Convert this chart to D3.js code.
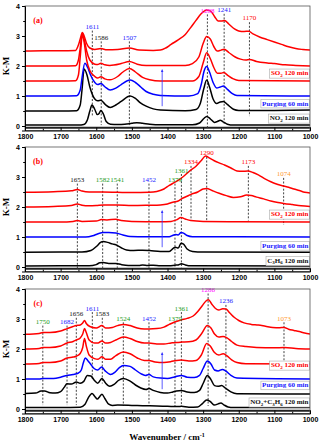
<!DOCTYPE html>
<html><head><meta charset="utf-8">
<script src="https://cdn.jsdelivr.net/npm/d3@7"></script>
<style>body{margin:0;background:#fff}svg{display:block;font-family:"Liberation Serif","Times New Roman",serif}</style>
</head><body><svg id="c" width="320" height="443"></svg>
<script>
// ---------- tick labels ----------
const xTicks = [1800,1700,1600,1500,1400,1300,1200,1100,1000];
const yTicks = [0,1,2,3,4];

// ---------- panel (a) spectra [wavenumber, K-M] ----------
const aNO2 = [[1800,0.03],[1700,0.03],[1650,0.03],[1635,0.05],[1625,0.2],[1618,0.5],[1612,0.7],[1604,0.55],[1597,0.38],[1592,0.42],[1587,0.52],[1580,0.4],[1572,0.15],[1560,0.06],[1540,0.05],[1520,0.06],[1500,0.09],[1486,0.11],[1470,0.09],[1450,0.06],[1420,0.04],[1330,0.04],[1310,0.1],[1298,0.25],[1290,0.32],[1280,0.24],[1268,0.12],[1260,0.15],[1252,0.19],[1244,0.14],[1232,0.06],[1215,0.03],[1000,0.03]];
const aRef = [[1800,0.5],[1700,0.5],[1655,0.51],[1645,0.7],[1640,1.2],[1634,1.9],[1626,1.7],[1618,1.3],[1604,0.9],[1596,0.84],[1587,0.86],[1575,0.72],[1561,0.62],[1545,0.7],[1530,0.82],[1505,1.0],[1490,0.92],[1477,0.78],[1460,0.66],[1440,0.57],[1420,0.53],[1350,0.51],[1320,0.55],[1308,0.75],[1298,1.25],[1290,1.53],[1282,1.3],[1272,0.9],[1262,0.75],[1252,0.8],[1243,0.82],[1232,0.72],[1215,0.56],[1200,0.52],[1100,0.52],[1000,0.53]];
const aPurge = [[1800,1.0],[1700,1.0],[1655,1.01],[1645,1.2],[1640,1.6],[1632,2.09],[1624,1.95],[1616,1.7],[1604,1.45],[1596,1.38],[1587,1.42],[1575,1.3],[1561,1.2],[1545,1.26],[1530,1.38],[1505,1.53],[1490,1.45],[1475,1.3],[1460,1.15],[1440,1.06],[1420,1.02],[1340,1.0],[1315,1.08],[1305,1.4],[1298,1.8],[1290,1.98],[1282,1.8],[1272,1.45],[1262,1.27],[1252,1.3],[1243,1.33],[1232,1.22],[1218,1.08],[1205,1.02],[1000,1.0]];
const aSO2a = [[1800,1.5],[1700,1.5],[1658,1.51],[1650,1.7],[1645,2.3],[1639,3.05],[1634,2.8],[1627,2.2],[1618,1.85],[1604,1.65],[1596,1.6],[1587,1.64],[1576,1.57],[1562,1.54],[1540,1.65],[1525,1.8],[1507,1.92],[1490,1.8],[1470,1.62],[1450,1.54],[1420,1.5],[1330,1.5],[1312,1.65],[1300,2.1],[1290,2.44],[1280,2.25],[1270,1.95],[1260,1.76],[1250,1.76],[1242,1.78],[1230,1.68],[1215,1.57],[1200,1.52],[1000,1.5]];
const aSO2b = [[1800,2.0],[1700,2.0],[1658,2.01],[1650,2.2],[1645,2.6],[1639,3.1],[1634,2.9],[1627,2.5],[1618,2.2],[1604,2.06],[1596,2.05],[1587,2.09],[1576,2.04],[1562,2.02],[1530,2.08],[1507,2.15],[1485,2.06],[1460,2.02],[1350,2.02],[1330,2.08],[1312,2.3],[1300,2.75],[1290,2.98],[1280,2.9],[1270,2.65],[1260,2.5],[1250,2.53],[1241,2.56],[1228,2.45],[1210,2.3],[1195,2.23],[1180,2.2],[1170,2.22],[1150,2.15],[1120,2.1],[1100,2.08],[1070,2.04],[1040,2.02],[1000,2.0]];
const aSO2c = [[1800,2.5],[1750,2.51],[1700,2.51],[1658,2.52],[1650,2.7],[1645,2.9],[1639,3.12],[1634,3.0],[1627,2.75],[1618,2.6],[1604,2.55],[1587,2.58],[1570,2.54],[1540,2.55],[1507,2.6],[1480,2.53],[1440,2.52],[1420,2.53],[1405,2.6],[1390,2.72],[1370,2.87],[1350,3.05],[1335,3.28],[1320,3.52],[1305,3.75],[1290,3.87],[1278,3.82],[1268,3.65],[1258,3.5],[1248,3.5],[1240,3.52],[1228,3.4],[1212,3.24],[1200,3.17],[1185,3.15],[1172,3.16],[1160,3.07],[1140,2.96],[1120,2.88],[1100,2.8],[1080,2.72],[1060,2.64],[1040,2.58],[1020,2.55],[1000,2.53]];

// ---------- panel (b) spectra ----------
const bC3H6 = [[1800,0.03],[1700,0.04],[1620,0.04],[1600,0.08],[1590,0.14],[1580,0.15],[1565,0.12],[1545,0.12],[1530,0.08],[1510,0.05],[1480,0.05],[1470,0.07],[1455,0.05],[1440,0.06],[1420,0.04],[1395,0.04],[1379,0.06],[1370,0.07],[1361,0.11],[1350,0.07],[1335,0.04],[1000,0.03]];
const bRef = [[1800,0.49],[1700,0.5],[1640,0.5],[1615,0.55],[1598,0.7],[1588,0.82],[1580,0.85],[1568,0.82],[1555,0.77],[1545,0.74],[1530,0.64],[1515,0.57],[1495,0.55],[1470,0.56],[1450,0.55],[1420,0.52],[1395,0.52],[1384,0.62],[1378,0.66],[1370,0.63],[1362,0.79],[1355,0.76],[1345,0.6],[1330,0.52],[1300,0.5],[1000,0.49]];
const bPurge = [[1800,1.0],[1700,1.0],[1630,1.0],[1610,1.04],[1595,1.11],[1580,1.15],[1565,1.15],[1545,1.13],[1525,1.07],[1505,1.02],[1460,1.01],[1395,1.01],[1384,1.06],[1377,1.08],[1370,1.07],[1362,1.15],[1355,1.13],[1345,1.05],[1330,1.01],[1000,1.0]];
const bSO2a = [[1800,1.5],[1700,1.5],[1665,1.52],[1653,1.55],[1640,1.52],[1600,1.53],[1585,1.58],[1570,1.57],[1545,1.59],[1530,1.55],[1500,1.52],[1420,1.51],[1390,1.52],[1375,1.57],[1362,1.65],[1350,1.6],[1335,1.55],[1300,1.52],[1200,1.51],[1000,1.5]];
const bSO2b = [[1800,2.0],[1720,2.02],[1670,2.05],[1653,2.1],[1640,2.06],[1620,2.04],[1600,2.05],[1580,2.07],[1541,2.07],[1500,2.05],[1452,2.06],[1420,2.07],[1400,2.1],[1385,2.16],[1370,2.2],[1361,2.27],[1345,2.36],[1334,2.42],[1315,2.5],[1300,2.6],[1290,2.62],[1275,2.55],[1255,2.46],[1235,2.38],[1215,2.32],[1195,2.34],[1178,2.4],[1165,2.38],[1150,2.33],[1130,2.27],[1110,2.2],[1090,2.15],[1074,2.12],[1050,2.08],[1025,2.04],[1000,2.02]];
const bSO2c = [[1800,2.49],[1720,2.51],[1670,2.54],[1653,2.58],[1640,2.53],[1620,2.5],[1582,2.5],[1541,2.49],[1500,2.48],[1452,2.49],[1430,2.52],[1410,2.6],[1395,2.72],[1380,2.82],[1365,2.93],[1352,3.05],[1338,3.2],[1320,3.36],[1305,3.55],[1293,3.7],[1283,3.64],[1270,3.55],[1255,3.47],[1240,3.4],[1222,3.3],[1205,3.2],[1190,3.19],[1175,3.2],[1160,3.15],[1145,3.07],[1125,2.93],[1110,2.84],[1090,2.75],[1074,2.7],[1060,2.66],[1045,2.6],[1030,2.55],[1015,2.49],[1000,2.47]];

// ---------- panel (c) spectra ----------
const cMix = [[1800,0.05],[1700,0.05],[1645,0.06],[1632,0.15],[1622,0.38],[1612,0.52],[1604,0.42],[1597,0.33],[1590,0.42],[1584,0.49],[1576,0.35],[1565,0.16],[1555,0.12],[1540,0.13],[1500,0.12],[1470,0.11],[1430,0.1],[1400,0.09],[1370,0.08],[1361,0.09],[1340,0.06],[1315,0.07],[1302,0.18],[1290,0.3],[1280,0.25],[1268,0.13],[1258,0.17],[1250,0.2],[1242,0.14],[1230,0.07],[1215,0.05],[1000,0.05]];
const cRef = [[1800,0.52],[1770,0.53],[1755,0.6],[1745,0.6],[1730,0.54],[1715,0.53],[1700,0.58],[1690,0.72],[1682,0.84],[1670,0.83],[1656,0.9],[1645,0.86],[1635,0.92],[1625,1.12],[1615,1.1],[1605,0.95],[1596,0.86],[1584,1.02],[1575,0.88],[1562,0.76],[1550,0.82],[1538,0.95],[1524,1.02],[1505,0.93],[1490,0.8],[1475,0.7],[1460,0.65],[1452,0.68],[1440,0.62],[1420,0.55],[1400,0.53],[1385,0.57],[1375,0.6],[1361,0.62],[1345,0.57],[1325,0.55],[1310,0.62],[1300,0.85],[1288,1.12],[1278,0.98],[1268,0.78],[1258,0.76],[1248,0.78],[1238,0.7],[1222,0.57],[1205,0.51],[1000,0.5]];
const cPurge = [[1800,1.0],[1760,1.0],[1750,1.02],[1720,1.02],[1700,1.06],[1682,1.12],[1665,1.15],[1650,1.2],[1642,1.3],[1636,1.55],[1631,1.7],[1624,1.62],[1616,1.5],[1606,1.35],[1596,1.3],[1585,1.4],[1575,1.27],[1560,1.15],[1548,1.22],[1535,1.38],[1524,1.45],[1505,1.42],[1490,1.3],[1475,1.18],[1462,1.12],[1452,1.15],[1440,1.07],[1420,1.03],[1400,1.02],[1380,1.07],[1361,1.12],[1345,1.06],[1325,1.05],[1310,1.12],[1300,1.35],[1288,1.6],[1278,1.5],[1268,1.3],[1258,1.27],[1246,1.32],[1236,1.26],[1222,1.12],[1205,1.03],[1000,1.0]];
const cSO2a = [[1800,1.5],[1760,1.52],[1750,1.55],[1730,1.55],[1700,1.6],[1682,1.7],[1665,1.73],[1656,1.76],[1645,1.85],[1638,2.05],[1633,2.35],[1628,2.1],[1620,1.8],[1605,1.68],[1595,1.66],[1584,1.74],[1574,1.66],[1560,1.66],[1545,1.78],[1524,1.9],[1505,1.84],[1485,1.7],[1465,1.62],[1452,1.62],[1435,1.57],[1410,1.55],[1390,1.58],[1375,1.62],[1361,1.63],[1340,1.6],[1320,1.62],[1305,1.8],[1290,2.18],[1280,2.1],[1268,1.88],[1256,1.8],[1244,1.84],[1234,1.78],[1220,1.64],[1205,1.55],[1180,1.51],[1000,1.5]];
const cSO2b = [[1800,2.0],[1760,2.02],[1750,2.05],[1730,2.05],[1700,2.1],[1682,2.2],[1665,2.25],[1656,2.3],[1645,2.37],[1638,2.5],[1633,2.68],[1628,2.55],[1620,2.3],[1605,2.2],[1595,2.2],[1584,2.27],[1574,2.2],[1560,2.22],[1545,2.3],[1524,2.4],[1505,2.35],[1485,2.25],[1465,2.2],[1452,2.2],[1430,2.17],[1410,2.17],[1390,2.2],[1375,2.22],[1361,2.23],[1340,2.24],[1320,2.3],[1305,2.5],[1288,2.78],[1278,2.7],[1268,2.5],[1256,2.4],[1244,2.42],[1234,2.38],[1220,2.25],[1205,2.13],[1180,2.08],[1150,2.05],[1100,2.04],[1073,2.05],[1040,2.02],[1000,2.0]];
const cSO2c = [[1800,2.49],[1760,2.52],[1750,2.55],[1730,2.55],[1700,2.6],[1682,2.68],[1665,2.75],[1656,2.78],[1645,2.8],[1638,2.87],[1633,2.95],[1628,2.85],[1618,2.75],[1600,2.7],[1584,2.78],[1574,2.7],[1555,2.72],[1540,2.78],[1524,2.82],[1505,2.78],[1485,2.7],[1465,2.67],[1452,2.67],[1430,2.68],[1410,2.73],[1395,2.82],[1380,2.9],[1361,2.97],[1345,3.02],[1328,3.1],[1315,3.25],[1302,3.45],[1292,3.6],[1285,3.64],[1276,3.5],[1266,3.36],[1256,3.3],[1245,3.34],[1236,3.33],[1225,3.2],[1212,3.05],[1200,2.95],[1185,2.87],[1165,2.82],[1145,2.8],[1125,2.76],[1105,2.72],[1085,2.71],[1073,2.72],[1060,2.66],[1045,2.62],[1030,2.58],[1015,2.53],[1000,2.5]];

// ---------- peak annotations: wavenumber, label, label level, dash top, dash bottom ----------
const aPeakW = [1611,1586,1507,1288,1241,1170];
const aPeakLabelV = [3.33,2.95,2.95,3.85,3.87,3.6];
const aPeakDash = [[3.18,0.3],[2.82,0.03],[2.82,0.03],[3.72,-0.05],[3.74,0.02],[3.46,0.33]];
const aPeakCol = ["blue","black","blue","magenta","blue","red"];

const bPeakW = [1653,1582,1541,1452,1379,1361,1334,1290,1173,1074];
const bPeakLabelV = [2.92,2.92,2.92,2.92,2.92,3.23,3.5,3.8,3.5,3.1];
const bPeakDash = [[2.78,-0.05],[2.78,-0.05],[2.78,-0.03],[2.78,-0.03],[2.78,0.0],[3.1,-0.03],[3.37,1.55],[3.67,1.55],[3.37,1.55],[2.97,1.4]];
const bPeakCol = ["black","green","green","blue","green","green","red","red","red","orange"];

const cPeakW = [1750,1682,1656,1611,1583,1524,1452,1379,1361,1286,1236,1073];
const cPeakLabelV = [2.91,2.91,3.17,3.36,3.17,3.02,3.02,3.02,3.36,3.97,3.6,3.02];
const cPeakDash = [[2.78,0.13],[2.78,0.13],[3.04,0.13],[3.23,0.95],[3.04,0.85],[2.89,0.1],[2.89,0.13],[2.89,0.1],[3.23,0.1],[3.85,0.1],[3.47,0.42],[2.89,1.38]];
const cPeakCol = ["green","blue","black","blue","black","green","blue","green","green","magenta","blue","orange"];

// ---------- boxed legend labels ----------
const aLegend = [{parts:[["SO",0],["2",1],[" 120 min",0]],v:1.77,col:"red"},{parts:[["Purging 60 min",0]],v:0.76,col:"blue"},{parts:[["NO",0],["2",1],[" 120 min",0]],v:0.27,col:"black"}];
const bLegend = [{parts:[["SO",0],["2",1],[" 120 min",0]],v:1.77,col:"red"},{parts:[["Purging 60 min",0]],v:0.72,col:"blue"},{parts:[["C",0],["3",1],["H",0],["6",1],[" 120 min",0]],v:0.22,col:"black"}];
const cLegend = [{parts:[["SO",0],["2",1],[" 120 min",0]],v:1.47,col:"red"},{parts:[["Purging 60 min",0]],v:0.8,col:"blue"},{parts:[["NO",0],["2",1],["+C",0],["3",1],["H",0],["6",1],[" 120 min",0]],v:0.24,col:"black"}];

const panelLetters = ["(a)","(b)","(c)"];
const arrowW = 1415, arrowFrom = 0.66, arrowTo = 1.85;

// ---------- drawing ----------
const colorMap = {red:"#ff0000",blue:"#2020ff",black:"#111",magenta:"#ff00ff",green:"#1a9a1a",orange:"#ff9a30"};
const svg = d3.select("#c");
const L = 25, R = 310;
const x = d3.scaleLinear().domain([1800,1000]).range([L,R]);

const panels = [
  {top:6, spectra:[[aNO2,"#000"],[aRef,"#000"],[aPurge,"#0000ff"],[aSO2a,"#ff0000"],[aSO2b,"#ff0000"],[aSO2c,"#ff0000"]], pw:aPeakW, pl:aPeakLabelV, pd:aPeakDash, pc:aPeakCol, leg:aLegend},
  {top:147, spectra:[[bC3H6,"#000"],[bRef,"#000"],[bPurge,"#0000ff"],[bSO2a,"#ff0000"],[bSO2b,"#ff0000"],[bSO2c,"#ff0000"]], pw:bPeakW, pl:bPeakLabelV, pd:bPeakDash, pc:bPeakCol, leg:bLegend},
  {top:289, spectra:[[cMix,"#000"],[cRef,"#000"],[cPurge,"#0000ff"],[cSO2a,"#ff0000"],[cSO2b,"#ff0000"],[cSO2c,"#ff0000"]], pw:cPeakW, pl:cPeakLabelV, pd:cPeakDash, pc:cPeakCol, leg:cLegend}
];

const defs = svg.append("defs");
defs.append("marker").attr("id","ah").attr("viewBox","0 0 10 10").attr("refX",5).attr("refY",5)
  .attr("markerWidth",4).attr("markerHeight",5).attr("orient","auto")
  .append("path").attr("d","M0,1 L10,5 L0,9 z").attr("fill","#3030ff");

panels.forEach((p,i)=>{
  const yMin = -0.15, yMax = 4;
  const y = d3.scaleLinear().domain([yMin,yMax]).range([p.top + (yMax-yMin)*30, p.top]);
  const g = svg.append("g");
  defs.append("clipPath").attr("id","clip"+i).append("rect")
    .attr("x",L).attr("y",p.top).attr("width",R-L).attr("height",(yMax-yMin)*30);

  // bottom thick baseline
  g.append("line").attr("x1",L).attr("x2",R).attr("y1",y(-0.055)).attr("y2",y(-0.055))
    .attr("stroke","#222").attr("stroke-width",2);

  // dashed peak lines
  p.pw.forEach((w,k)=>{
    g.append("line").attr("x1",x(w)).attr("x2",x(w)).attr("y1",y(p.pd[k][0])).attr("y2",y(p.pd[k][1]))
      .attr("stroke","#444").attr("stroke-width",1).attr("stroke-dasharray","2,1.6");
  });

  // spectra
  const line = d3.line().x(d=>x(d[0])).y(d=>y(d[1])).curve(d3.curveMonotoneX);
  const sg = g.append("g").attr("clip-path",`url(#clip${i})`);
  p.spectra.forEach(([data,col])=>{
    sg.append("path").attr("d",line(data)).attr("fill","none").attr("stroke",col).attr("stroke-width",1.5);
  });

  // peak labels
  p.pw.forEach((w,k)=>{
    g.append("text").attr("x",x(w)).attr("y",y(p.pl[k])).attr("dy","0.35em")
      .attr("text-anchor","middle").attr("font-size",7).attr("fill",colorMap[p.pc[k]]).text(String(w));
  });

  // arrow
  g.append("line").attr("x1",x(arrowW)).attr("x2",x(arrowW)).attr("y1",y(arrowFrom)).attr("y2",y(arrowTo))
    .attr("stroke","#3030ff").attr("stroke-width",0.8).attr("marker-end","url(#ah)");

  // legend boxes
  p.leg.forEach(lg=>{
    const lgG = g.append("g");
    const t = lgG.append("text").attr("y",y(lg.v)).attr("dy","0.35em").attr("font-size",7)
      .attr("font-weight","bold").attr("fill",colorMap[lg.col]);
    lg.parts.forEach(([s,sub])=>{
      const ts = t.append("tspan").text(s);
      if(sub){ ts.attr("font-size",5).attr("dy","1.5"); }
      else if(t.selectAll("tspan").size()>1){ ts.attr("dy","-1.5"); }
    });
    // fix dy resets: only after subscripts
    const bb = t.node().getBBox();
    const tx = R - 1.5 - bb.width;
    t.attr("x",tx);
    const bb2 = t.node().getBBox();
    lgG.insert("rect","text").attr("x",bb2.x-1.2).attr("y",bb2.y-0.3).attr("width",bb2.width+2.4).attr("height",bb2.height+0.6)
      .attr("fill","#fff").attr("stroke","#aaa").attr("stroke-width",0.6);
  });

  // frame
  g.append("rect").attr("x",L).attr("y",y(4)).attr("width",R-L).attr("height",y(yMin)-y(4))
    .attr("fill","none").attr("stroke","#555").attr("stroke-width",0.8);

  // y axis
  const ya = g.append("g").attr("transform",`translate(${L},0)`)
    .call(d3.axisLeft(y).tickValues(yTicks).tickSize(3).tickPadding(2).tickFormat(d3.format("d")));
  ya.select(".domain").attr("stroke","#000");
  ya.selectAll("text").attr("font-size",7).attr("font-weight","bold").attr("font-family",null);
  g.append("g").attr("transform",`translate(${L},0)`)
    .call(d3.axisLeft(y).tickValues([0.5,1.5,2.5,3.5]).tickSize(1.8).tickFormat(""))
    .select(".domain").remove();

  // x axis
  const xa = g.append("g").attr("transform",`translate(0,${y(yMin)})`)
    .call(d3.axisBottom(x).tickValues(xTicks).tickSize(-3).tickPadding(4).tickFormat(d3.format("d")));
  xa.select(".domain").attr("stroke","#000");
  xa.selectAll("text").attr("font-size",7).attr("font-weight","bold").attr("font-family",null);
  g.append("g").attr("transform",`translate(0,${y(yMin)})`)
    .call(d3.axisBottom(x).tickValues(d3.range(1750,1000,-100)).tickSize(-1.8).tickFormat(""))
    .select(".domain").remove();

  // y title
  g.append("text").attr("transform",`translate(9,${y(2)}) rotate(-90)`).attr("text-anchor","middle")
    .attr("font-size",9).attr("font-weight","bold").text("K-M");

  // panel letter
  g.append("text").attr("x",38).attr("y",y(3.53)).attr("dy","0.35em").attr("text-anchor","middle")
    .attr("font-size",8).attr("font-weight","bold").attr("fill","#ff0000").text(panelLetters[i]);
});

// x title
const xt = svg.append("text").attr("x",167).attr("y",440).attr("text-anchor","middle")
  .attr("font-size",9).attr("font-weight","bold");
xt.append("tspan").text("Wavenumber / cm");
xt.append("tspan").attr("font-size",6).attr("dy",-3.5).text("-1");
</script></body></html>
